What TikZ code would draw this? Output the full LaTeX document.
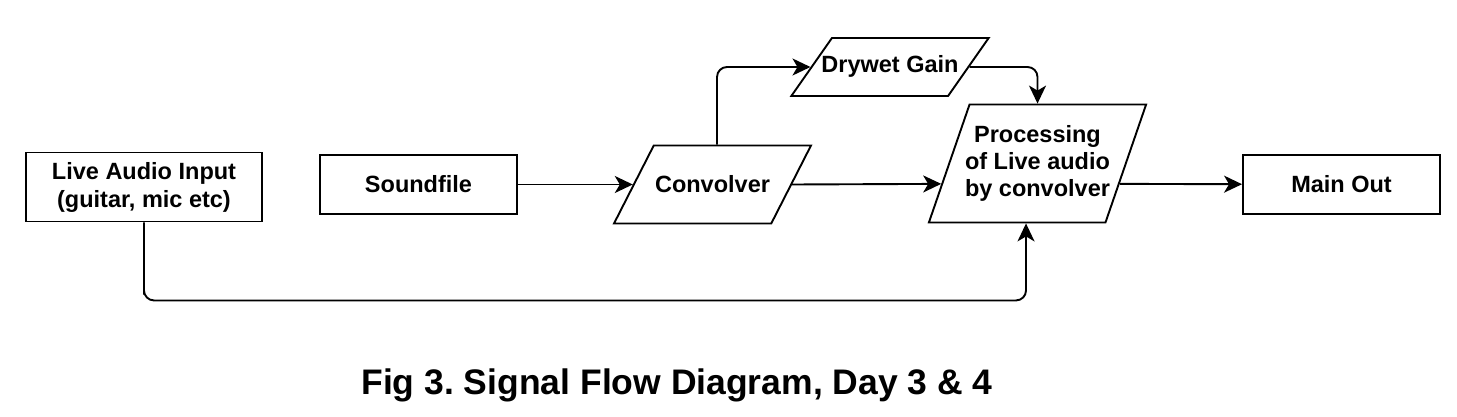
\documentclass[tikz,border=0pt]{standalone}
\usepackage{fontspec}
\setmainfont{Liberation Sans}
\usetikzlibrary{shapes.geometric}
\usetikzlibrary{arrows.meta}
\usetikzlibrary{calc}
\tikzstyle{block} = [rectangle, draw, line width=1.9pt, text centered,
    minimum width=197pt, minimum height=59pt, align=center,
    font=\fontsize{23.5}{28}\selectfont\bfseries]
\tikzstyle{para} = [trapezium, draw, line width=1.9pt, text centered,
    trapezium stretches body, inner xsep=0pt, align=center,
    font=\fontsize{23.5}{27}\selectfont\bfseries]
\tikzstyle{line} = [draw, line width=1.9pt, rounded corners=10pt,
    -{Stealth[length=18pt, width=17pt, inset=5pt]}]
\tikzstyle{caption} = [font=\fontsize{35.5}{40}\selectfont\bfseries, anchor=base]

\begin{document}
\begin{tikzpicture}[x=1pt, y=-1pt]
    \useasboundingbox (0,0) rectangle (1457,417);
    % Place nodes
    \node [block, minimum width=236pt, minimum height=69pt] (liveInput) at (144,187) {Live Audio Input\\(guitar, mic etc)};
    \node [block, right of=liveInput, node distance=274.5pt, yshift=2.5pt] (soundfile) {Soundfile};
    \node [para, right of=soundfile, node distance=294pt, trapezium left angle=63, trapezium right angle=117,
        minimum width=197pt, text height=17pt, text depth=0pt, inner ysep=30.5pt] (convolver) {Convolver};
    \node [para, trapezium left angle=55, trapezium right angle=125, inner xsep=-10.5pt,
        minimum width=196pt, text height=17pt, text depth=5pt, inner ysep=18pt] (drywet) at (890,67) {Drywet Gain};
    \node [para, trapezium left angle=71, trapezium right angle=109, inner xsep=-4.5pt,
        minimum width=217pt, inner ysep=21pt] (processing) at (1037.5,163.5) {Processing\\of Live audio\\by convolver};
    \node [block, right of=convolver, node distance=629pt] (mainOut) {Main Out};
    \node [caption] (figTitle) at (677,394) {Fig 3.\ Signal Flow Diagram, Day 3 \& 4};
    % Draw edges
    \path [line] (soundfile) -- (convolver.left side);
    \path [line] (convolver.right side) -- ($(processing.bottom left corner)!0.33!(processing.top left corner)$);
    \path [line] ([xshift=4.5pt]convolver.north) |- (drywet.left side);
    \path [line] (drywet.right side) -| (processing.north);
    \path [line] (liveInput.south) |- ++(0,78) -| ([xshift=-11.5pt]processing.south);
    \path [line] ($(processing.bottom right corner)!0.33!(processing.top right corner)$) -- (mainOut);
\end{tikzpicture}
\end{document}
